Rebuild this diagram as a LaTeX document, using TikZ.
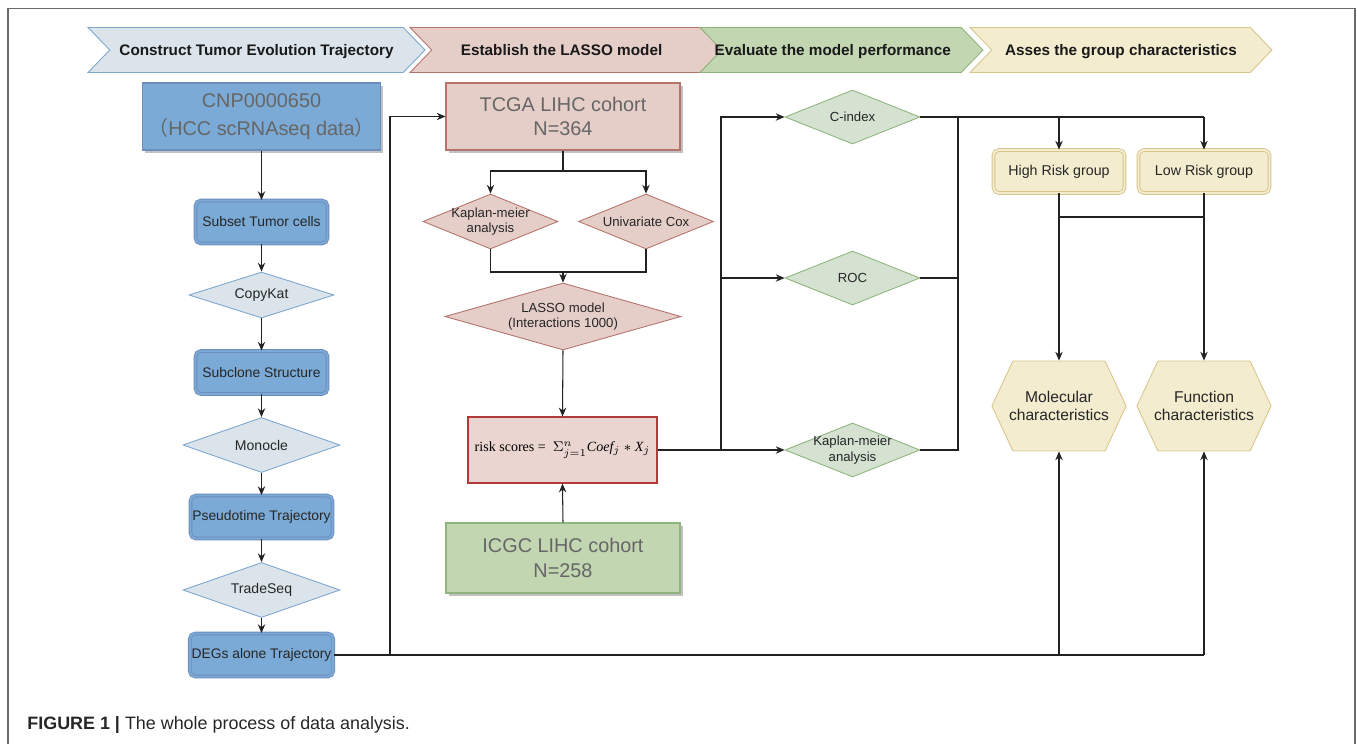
\documentclass[tikz,border=0pt]{standalone}
\usepackage{fontspec}
\setmainfont{Liberation Sans}
\newfontfamily\cjk{Noto Sans CJK SC}
\newfontfamily\tnr{Liberation Serif}
\usetikzlibrary{shapes.geometric,shapes.symbols,shadows,arrows.meta}
\definecolor{bluefill}{HTML}{7BAAD6}
\definecolor{blueline}{HTML}{6C8EBF}
\definecolor{paleblue}{HTML}{DAE4EA}
\definecolor{palebline}{HTML}{7EA6CF}
\definecolor{pinkfill}{HTML}{E6CEC8}
\definecolor{pinkline}{HTML}{B5736E}
\definecolor{riskline}{HTML}{B03A3A}
\definecolor{greenfill}{HTML}{C2D6B2}
\definecolor{greenline}{HTML}{8FB47E}
\definecolor{palegreen}{HTML}{D5E2D2}
\definecolor{yellowfill}{HTML}{F3ECCF}
\definecolor{yellowline}{HTML}{D6C68C}
\definecolor{textgrey}{HTML}{666666}
\definecolor{wirecol}{HTML}{222222}
\definecolor{framecol}{HTML}{6A6A6A}
\begin{document}
\begin{tikzpicture}[x=.02cm,y=-.02cm,line width=.6pt,
  arr/.style={draw=wirecol,-{Stealth[length=5pt,width=4.2pt]}},
  wire/.style={draw=wirecol},
  banner/.style={shape=signal,signal to=east,signal from=west,signal pointer angle=92,minimum height=.9cm,inner sep=0pt,text height=1.6ex,text depth=.4ex,font=\fontsize{8.7}{10}\selectfont\bfseries,text=black!90,line width=.5pt},
  bigbox/.style={rectangle,minimum width=4.7cm,minimum height=1.34cm,align=center,text=textgrey,font=\fontsize{11.3}{13.8}\selectfont,line width=.6pt,drop shadow={shadow xshift=1.6pt,shadow yshift=-1.6pt,fill=black!35,opacity=.7}},
  stepbox/.style={rectangle,rounded corners=3pt,fill=bluefill,draw=blueline,double=bluefill,double distance=1.1pt,line width=.5pt,minimum height=.86cm,inner xsep=1pt,font=\fontsize{7.9}{9.5}\selectfont,text=black!85},
  groupbox/.style={stepbox,fill=yellowfill,draw=yellowline,double=yellowfill,minimum width=2.62cm,minimum height=.86cm,font=\fontsize{8.1}{9.5}\selectfont},
  dia/.style={diamond,inner xsep=0pt,inner ysep=-2.5pt,align=center,font=\fontsize{7.5}{9}\selectfont,line width=.5pt,text=black!85},
  bluedia/.style={dia,fill=paleblue,draw=palebline,font=\fontsize{8}{9.5}\selectfont},
  pinkdia/.style={dia,fill=pinkfill,draw=pinkline},
  greendia/.style={dia,fill=palegreen,draw=greenline,minimum width=2.7cm,minimum height=1.08cm,aspect=2.5},
  hexa/.style={shape=signal,signal to=east and west,signal pointer angle=130,fill=yellowfill,draw=yellowline,line width=.5pt,minimum width=2.6cm,minimum height=1.8cm,inner ysep=0pt,inner xsep=-2.2pt,align=center,font=\fontsize{8.9}{10.2}\selectfont,text=black!85}]
\useasboundingbox (0,0) rectangle (1357,744);
\draw[framecol,line width=.9pt] (8,744) -- (8,8.5) -- (1355,8.5) -- (1355,744);
% stage banners
\node[banner,fill=paleblue,draw=palebline,minimum width=6.74cm] (ban1) at (256.5,50) {Construct Tumor Evolution Trajectory};
\node[banner,fill=pinkfill,draw=pinkline,minimum width=6.24cm] (ban2) at (566,50) {\hspace*{-5pt}Establish the LASSO model};
\node[banner,fill=greenfill,draw=greenline,minimum width=5.66cm] (ban3) at (841.5,50) {\hspace*{-10pt}Evaluate the model performance};
\node[banner,fill=yellowfill,draw=yellowline,minimum width=6.04cm] (ban4) at (1121,50) {Asses the group characteristics};
% single cell column
\node[bigbox,fill=bluefill,draw=blueline,minimum width=4.72cm,font=\fontsize{11.3}{16}\selectfont] (cnp) at (261.5,116.5) {CNP0000650\\{\cjk （}HCC scRNAseq data{\cjk ）}};
\node[stepbox,minimum width=2.64cm] (subset) at (261.5,222) {Subset Tumor cells};
\node[bluedia,minimum width=2.9cm,minimum height=.92cm,aspect=3.15] (copykat) at (261.5,295) {CopyKat};
\node[stepbox,minimum width=2.64cm] (subclone) at (261.5,372.5) {Subclone Structure};
\node[bluedia,minimum width=3.14cm,minimum height=1.1cm,aspect=2.85] (monocle) at (261.5,445) {Monocle};
\node[stepbox,minimum width=2.84cm] (pseudo) at (261.5,517) {Pseudotime Trajectory};
\node[bluedia,minimum width=3.14cm,minimum height=1.1cm,aspect=2.85] (tradeseq) at (261.5,590) {TradeSeq};
\node[stepbox,minimum width=2.84cm] (degs) at (261.5,655) {DEGs alone Trajectory};
% model column
\node[bigbox,fill=pinkfill,draw=pinkline,minimum width=4.68cm] (tcga) at (563,116.5) {TCGA LIHC cohort\\N=364};
\node[pinkdia,minimum width=2.7cm,minimum height=1.1cm,aspect=2.45] (km1) at (490.5,221.5) {Kaplan-meier\\analysis};
\node[pinkdia,minimum width=2.7cm,minimum height=1.1cm,aspect=2.45] (cox) at (646,221.5) {Univariate Cox};
\node[pinkdia,minimum width=4.72cm,minimum height=1.34cm,aspect=3.5] (lasso) at (563,316.5) {LASSO model\\(Interactions 1000)};
\node[rectangle,fill=pinkfill!85!white,draw=riskline,line width=.7pt,minimum width=3.78cm,minimum height=1.32cm,inner xsep=1pt,font=\tnr\fontsize{8}{10}\selectfont] (risk) at (562.5,450) {risk scores =\ \ $\Sigma^{n}_{j=1}${\itshape Coef}$_j$ $*$ {\itshape X}$_j$};
\node[bigbox,fill=greenfill,draw=greenline,minimum width=4.68cm,minimum height=1.4cm] (icgc) at (563,558) {ICGC LIHC cohort\\N=258};
% evaluation column
\node[greendia] (cidx) at (852.5,117) {C-index};
\node[greendia] (roc) at (852.5,278) {ROC};
\node[greendia] (km2) at (852.5,450) {Kaplan-meier\\analysis};
% group column
\node[groupbox] (high) at (1059,171.5) {High Risk group};
\node[groupbox] (low) at (1204,171.5) {Low Risk group};
\node[hexa] (mol) at (1059,406) {Molecular\\characteristics};
\node[hexa] (func) at (1204,406) {Function\\characteristics};
% connectors
\draw[arr] (cnp) -- (subset);
\draw[arr] (subset) -- (copykat);
\draw[arr] (copykat) -- (subclone);
\draw[arr] (subclone) -- (monocle);
\draw[arr] (monocle) -- (pseudo);
\draw[arr] (pseudo) -- (tradeseq);
\draw[arr] (tradeseq) -- (degs);
\coordinate (jdeg) at (390,655);
\draw[wire] (degs.east) -- (func.south |- degs.east);
\draw[arr] (jdeg) |- (tcga.west);
\draw[arr] (mol.south |- degs.east) -- (mol.south);
\draw[arr] (func.south |- degs.east) -- (func.south);
\coordinate (jtcga) at (563,171);
\draw[wire] (tcga.south) -- (jtcga);
\draw[arr] (jtcga) -| (km1.north);
\draw[arr] (jtcga) -| (cox.north);
\coordinate (jsel) at (563,272);
\draw[wire] (km1.south) |- (jsel);
\draw[wire] (cox.south) |- (jsel);
\draw[arr] (jsel) -- (lasso.north);
\draw[arr] (lasso.south) -- (risk.north);
\draw[arr] (icgc.north) -- (risk.south);
\coordinate (jrisk) at (721,450);
\draw[wire] (risk.east) -- (jrisk);
\draw[arr] (jrisk) -- (km2.west);
\draw[arr] (jrisk) |- (roc.west);
\draw[arr] (jrisk) |- (cidx.west);
\coordinate (jeval) at (958,117);
\draw[wire] (km2.east) -| (jeval);
\draw[wire] (roc.east) -- (roc.east -| jeval);
\draw[wire] (cidx.east) -- (low.north |- cidx.east);
\draw[arr] (high.north |- cidx.east) -- (high.north);
\draw[arr] (low.north |- cidx.east) -- (low.north);
\draw[arr] (high.south) -- (mol.north);
\draw[arr] (low.south) -- (func.north);
\coordinate (jgrp) at (1059,217);
\draw[wire] (jgrp) -- (jgrp -| low.south);
% caption
\node[anchor=west,font=\fontsize{10.2}{12}\selectfont,text=black!85] (cap) at (21,725) {\textbf{FIGURE 1 |} The whole process of data analysis.};
\end{tikzpicture}
\end{document}
